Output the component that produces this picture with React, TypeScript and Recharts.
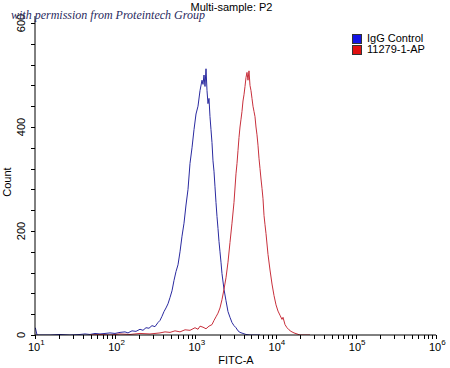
import { Legend, Line, LineChart, XAxis, YAxis } from "recharts";

// FITC-A histogram (value, count)
const igGControl: [number, number][] = [
  [10.1, 14], [10.6, 0], [11.5, 0], [15.4, 0], [20.5, 1], [27.3, 0], [36.4, 1],
  [42.0, 2], [48.5, 1], [56.0, 3], [64.6, 2], [74.6, 3], [86.1, 4], [99.4, 3],
  [114.8, 5], [132.5, 6], [144.4, 4], [162.0, 8], [181.7, 7], [203.8, 11],
  [222.1, 9], [242.1, 14], [263.9, 13], [287.6, 18], [313.5, 16], [341.7, 24],
  [361.9, 28], [383.3, 36], [405.9, 45], [429.9, 52], [455.3, 60], [482.3, 72],
  [510.8, 85], [541.0, 105], [573.0, 122], [606.8, 135], [642.7, 160],
  [680.7, 190], [721.0, 215], [763.6, 250], [808.7, 280], [856.5, 330],
  [907.2, 360], [960.8, 395], [1017.4, 425], [1077.5, 440], [1141.2, 470],
  [1208.7, 490], [1243.9, 482], [1280.1, 500], [1317.4, 478], [1355.7, 512],
  [1395.2, 470], [1435.8, 445], [1477.6, 455], [1520.6, 420], [1564.9, 395],
  [1610.5, 370], [1657.4, 335], [1705.6, 315], [1755.3, 285], [1806.4, 255],
  [1859.0, 228], [1913.2, 205], [1968.8, 180], [2026.2, 160], [2085.2, 140],
  [2145.9, 118], [2272.7, 88], [2407.1, 66], [2549.4, 45], [2700.1, 34],
  [2859.7, 24], [3028.8, 18], [3207.8, 14], [3397.6, 8], [3598.4, 5],
  [3922, 3], [4274, 1], [4794, 0], [6391, 0],
];

const antibody: [number, number][] = [
  [48.5, 0], [64.6, 1], [86.1, 0], [114.8, 2], [152.9, 1], [203.8, 3],
  [271.6, 2], [361.9, 4], [417.8, 6], [482.3, 5], [556.7, 8], [642.7, 6],
  [742.0, 10], [856.5, 9], [988.6, 14], [1077.5, 11], [1141.2, 17],
  [1243.9, 15], [1355.7, 12], [1477.6, 17], [1610.5, 20], [1705.6, 28],
  [1806.4, 35], [1913.2, 42], [2026.2, 52], [2145.9, 68], [2272.7, 88],
  [2407.1, 110], [2549.4, 140], [2700.1, 178], [2859.7, 215], [3028.8, 255],
  [3207.8, 310], [3301.5, 330], [3397.6, 355], [3496.6, 380], [3598.4, 400],
  [3703.6, 415], [3811, 430], [3922, 450], [4036, 462], [4154, 478],
  [4274, 495], [4399, 505], [4527, 490], [4659, 508], [4794, 480],
  [4934, 470], [5077, 455], [5225, 440], [5378, 430], [5535, 420],
  [5695, 400], [5862, 385], [6032, 365], [6208, 340], [6391, 320],
  [6577, 300], [6768, 282], [6965, 262], [7169, 230], [7377, 212],
  [7592, 195], [7814, 175], [8041, 155], [8515, 125], [9019, 98],
  [9550, 76], [10116, 58], [10713, 46], [11346, 38], [12016, 30],
  [12367, 34], [13098, 20], [13873, 14], [14693, 10], [15560, 7],
  [16960, 4], [18487, 2], [20150, 0], [26850, 0],
];

const seriesNames = ["IgG Control", "11279-1-AP"];
const decades = [1, 2, 3, 4, 5, 6];
const xTicks = decades.flatMap((d) =>
  d === 6 ? [10 ** d] : [1, 2, 3, 4, 5, 6, 7, 8, 9].map((k) => k * 10 ** d)
);
const yTicks = [0, 40, 80, 120, 160, 200, 240, 280, 320, 360, 400, 440, 480, 520, 560, 600];
const yLabels = [0, 200, 400, 600];

const font = '"Liberation Sans", Arial, sans-serif';
const TICK = 4;

function toPoints(rows: [number, number][]) {
  return rows.map(([v, c]) => ({ v, c }));
}

// eslint-disable-next-line @typescript-eslint/no-explicit-any
function XTick({ x, y, payload }: any) {
  const exp = Math.round(Math.log10(payload.value));
  const major = Math.abs(10 ** exp - payload.value) < 1e-6;
  const px = Math.round(x) + 0.5;
  return (
    <g>
      <line x1={px} x2={px} y1={y - TICK} y2={y} stroke="#000" shapeRendering="crispEdges" />
      {major && (
        <text x={x - 7} y={y + 12} fontSize={11} fill="#000" fontFamily={font}>
          10
          <tspan dy={-6} fontSize={8}>
            {exp}
          </tspan>
        </text>
      )}
    </g>
  );
}

// eslint-disable-next-line @typescript-eslint/no-explicit-any
function YTick({ x, y, payload }: any) {
  const py = Math.round(y) + 0.5;
  return (
    <g>
      <line x1={x} x2={x + TICK} y1={py} y2={py} stroke="#000" shapeRendering="crispEdges" />
      {yLabels.includes(payload.value) && (
        <text
          x={21}
          y={y}
          dy="0.35em"
          transform={`rotate(-90 21 ${y})`}
          textAnchor="middle"
          fontSize={11}
          fill="#000"
          fontFamily={font}
        >
          {payload.value}
        </text>
      )}
    </g>
  );
}

function LegendBox() {
  const colors = ["#1414e6", "#e01010"];
  return (
    <div style={{ fontFamily: font, fontSize: 11, lineHeight: "11px" }}>
      {seriesNames.map((n, i) => (
        <div key={n} style={{ display: "flex", alignItems: "center", height: 11 }}>
          <span
            style={{
              width: 8,
              height: 8,
              background: colors[i],
              border: "1px solid #333",
              marginRight: 5,
              display: "inline-block",
            }}
          />
          {n}
        </div>
      ))}
    </div>
  );
}

export default function App() {
  return (
    <div style={{ position: "relative", width: 450, height: 368, background: "#fff" }}>
      <style>{"body{margin:0}"}</style>
      <LineChart
        width={450}
        height={368}
        margin={{ top: 16, right: 14, bottom: 0, left: 0 }}
      >
        <XAxis
          dataKey="v"
          type="number"
          scale="log"
          domain={[10, 1000000]}
          ticks={xTicks}
          tick={<XTick />}
          tickSize={TICK}
          tickMargin={0}
          tickLine={false}
          axisLine={{ stroke: "#000" }}
          allowDataOverflow
          interval={0}
          height={33}
        />
        <XAxis
          xAxisId="top"
          orientation="top"
          type="number"
          domain={[0, 1]}
          tick={false}
          tickLine={false}
          axisLine={{ stroke: "#000" }}
          height={0}
        />
        <YAxis
          type="number"
          domain={[0, 613.5]}
          ticks={yTicks}
          tick={<YTick />}
          tickSize={TICK}
          tickMargin={0}
          tickLine={false}
          axisLine={{ stroke: "#000" }}
          allowDataOverflow
          interval={0}
          width={35}
        />
        <YAxis
          yAxisId="right"
          orientation="right"
          type="number"
          domain={[0, 1]}
          tick={false}
          tickLine={false}
          axisLine={{ stroke: "#000" }}
          width={0}
        />
        <Legend
          layout="vertical"
          align="center"
          verticalAlign="middle"
          content={<LegendBox />}
          wrapperStyle={{ position: "absolute", top: 33, left: 352, width: 90 }}
        />
        <Line
          data={toPoints(igGControl)}
          dataKey="c"
          name={seriesNames[0]}
          type="linear"
          stroke="#2a2aa0"
          strokeWidth={1}
          dot={false}
          isAnimationActive={false}
        />
        <Line
          data={toPoints(antibody)}
          dataKey="c"
          name={seriesNames[1]}
          type="linear"
          stroke="#c8303c"
          strokeWidth={1}
          dot={false}
          isAnimationActive={false}
        />
      </LineChart>
      <div
        style={{
          position: "absolute",
          top: 1,
          left: 0,
          width: 463,
          textAlign: "center",
          fontFamily: font,
          fontSize: 11,
        }}
      >
        Multi-sample: P2
      </div>
      <div
        style={{
          position: "absolute",
          top: 354,
          left: 0,
          width: 472,
          textAlign: "center",
          fontFamily: font,
          fontSize: 11,
        }}
      >
        FITC-A
      </div>
      <div
        style={{
          position: "absolute",
          left: -13,
          top: 176,
          width: 40,
          textAlign: "center",
          transform: "rotate(-90deg)",
          fontFamily: font,
          fontSize: 11,
        }}
      >
        Count
      </div>
      <div
        style={{
          position: "absolute",
          top: 8,
          left: 11,
          fontFamily: '"Liberation Serif", serif',
          fontStyle: "italic",
          fontSize: 12,
          color: "#2a2a60",
          whiteSpace: "nowrap",
        }}
      >
        with permission from Proteintech Group
      </div>
    </div>
  );
}
